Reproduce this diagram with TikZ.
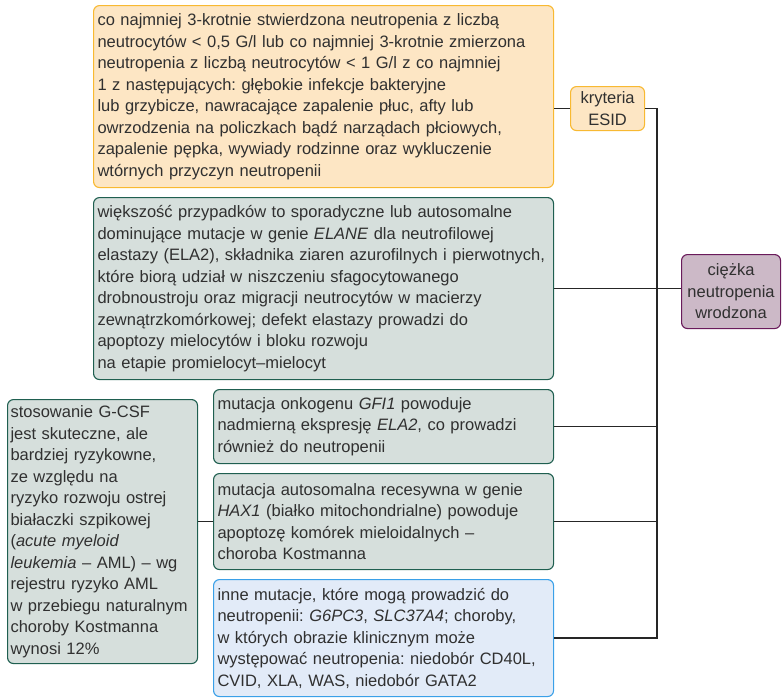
\documentclass[tikz,border=0pt]{standalone}
\usepackage{fontspec}
\setmainfont{Liberation Sans}
\hyphenpenalty=10000
\frenchspacing

\definecolor{txtgrey}{HTML}{303030}
\definecolor{orfill}{HTML}{FDE6C4}
\definecolor{ordraw}{HTML}{F8B932}
\definecolor{grfill}{HTML}{D6DFDC}
\definecolor{grdraw}{HTML}{1F5F50}
\definecolor{blfill}{HTML}{E2EBF8}
\definecolor{bldraw}{HTML}{3AA0E8}
\definecolor{pufill}{HTML}{CCB9C7}
\definecolor{pudraw}{HTML}{6A1B5B}

\tikzset{
  box/.style={draw, rounded corners=6pt, line width=1.1pt, anchor=north west,
    align=left, inner xsep=4pt, inner ysep=0pt, text=txtgrey,
    font=\fontsize{16.5}{21.5}\selectfont},
  orangebox/.style={box, fill=orfill, draw=ordraw},
  greenbox/.style={box, fill=grfill, draw=grdraw},
  bluebox/.style={box, fill=blfill, draw=bldraw},
  purplebox/.style={box, fill=pufill, draw=pudraw, align=center},
  link/.style={line width=1.3pt, draw=black!85}
}

\begin{document}
\begin{tikzpicture}[x=1pt,y=-1pt]
\useasboundingbox (0,0) rectangle (782,697);

% Criteria
\node[orangebox, text width=452pt, minimum height=182pt] (crit) at (93,5)
  {co najmniej 3-krotnie stwierdzona neutropenia z liczbą\\
   neutrocytów < 0,5 G/l lub co najmniej 3-krotnie zmierzona\\
   neutropenia z liczbą neutrocytów < 1 G/l z co najmniej\\
   1 z następujących: głębokie infekcje bakteryjne\\
   lub grzybicze, nawracające zapalenie płuc, afty lub\\
   owrzodzenia na policzkach bądź narządach płciowych,\\
   zapalenie pępka, wywiady rodzinne oraz wykluczenie\\
   wtórnych przyczyn neutropenii};
\node[orangebox, align=center, minimum width=74pt, minimum height=44pt] (esid) at (570,86)
  {kryteria\\ESID};

% Main node
\node[purplebox, minimum width=99pt, minimum height=74pt] (sev) at (681,254)
  {ciężka\\neutropenia\\wrodzona};

% Causes
\node[greenbox, text width=452pt, minimum height=182pt] (elane) at (93,197)
  {większość przypadków to sporadyczne lub autosomalne\\
   dominujące mutacje w genie \textit{ELANE} dla neutrofilowej\\
   elastazy (ELA2), składnika ziaren azurofilnych i pierwotnych,\\
   które biorą udział w niszczeniu sfagocytowanego\\
   drobnoustroju oraz migracji neutrocytów w macierzy\\
   zewnątrzkomórkowej; defekt elastazy prowadzi do\\
   apoptozy mielocytów i bloku rozwoju\\
   na etapie promielocyt–mielocyt};
\node[greenbox, text width=332pt, minimum height=74pt] (gfi) at (213,389)
  {mutacja onkogenu \textit{GFI1} powoduje\\
   nadmierną ekspresję \textit{ELA2}, co prowadzi\\
   również do neutropenii};
\node[greenbox, text width=332pt, minimum height=96pt] (hax) at (213,473)
  {mutacja autosomalna recesywna w genie\\
   \textit{HAX1} (białko mitochondrialne) powoduje\\
   apoptozę komórek mieloidalnych –\\
   choroba Kostmanna};
\node[bluebox, text width=332pt, minimum height=117pt] (inne) at (213,579)
  {inne mutacje, które mogą prowadzić do\\
   neutropenii: \textit{G6PC3}, \textit{SLC37A4}; choroby,\\
   w których obrazie klinicznym może\\
   występować neutropenia: niedobór CD40L,\\
   CVID, XLA, WAS, niedobór GATA2};

% Treatment
\node[greenbox, text width=184pt, inner xsep=3pt, minimum height=264pt] (gcsf) at (7,399)
  {stosowanie G-CSF\\
   jest skuteczne, ale\\
   bardziej ryzykowne,\\
   ze względu na\\
   ryzyko rozwoju ostrej\\
   białaczki szpikowej\\
   (\textit{acute myeloid}\\
   \textit{leukemia} – AML) – wg\\
   rejestru ryzyko AML\\
   w przebiegu naturalnym\\
   choroby Kostmanna\\
   wynosi 12\%};

% Connectors
\coordinate (trunk) at (657,0);
\draw[link] (crit.east |- esid.west) -- (esid.west);
\draw[link] (esid.east) -| (trunk |- inne.east) -- (inne.east);
\draw[link] (gfi.east) -- (trunk |- gfi.east);
\draw[link] (hax.east) -- (trunk |- hax.east);
\draw[link] (elane.east) -- (elane.east -| sev.west);
\draw[link] (gcsf.east |- hax.west) -- (hax.west);

\end{tikzpicture}
\end{document}
